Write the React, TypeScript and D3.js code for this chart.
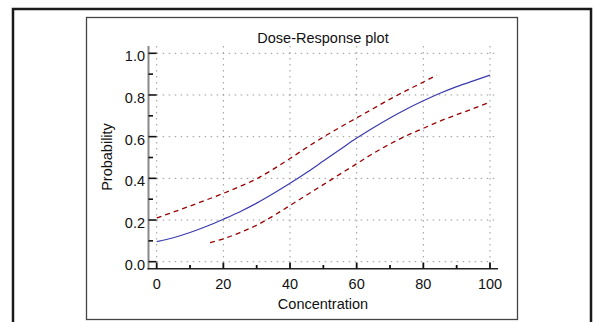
import React from "react";
import * as d3 from "d3";

const fitX = [0, 5, 10, 15, 20, 25, 30, 35, 40, 45, 50, 55, 60, 65, 70, 75, 80, 85, 90, 95, 100];
const fitY = [0.096, 0.115, 0.14, 0.17, 0.204, 0.24, 0.281, 0.327, 0.376, 0.428, 0.483, 0.538, 0.593, 0.643, 0.69, 0.733, 0.772, 0.808, 0.84, 0.868, 0.895];

const lowerX = [16, 20, 25, 30, 35, 40, 45, 50, 55, 60, 65, 70, 75, 80, 85, 90, 95, 100];
const lowerY = [0.092, 0.11, 0.14, 0.175, 0.22, 0.27, 0.32, 0.37, 0.42, 0.47, 0.52, 0.565, 0.605, 0.64, 0.675, 0.705, 0.735, 0.765];

const upperX = [0, 5, 10, 15, 20, 25, 30, 35, 40, 45, 50, 55, 60, 65, 70, 75, 80, 84];
const upperY = [0.21, 0.238, 0.267, 0.297, 0.328, 0.361, 0.398, 0.444, 0.495, 0.548, 0.598, 0.645, 0.69, 0.735, 0.78, 0.822, 0.862, 0.895];

const xTicks = [0, 20, 40, 60, 80, 100];
const xMinor = [10, 30, 50, 70, 90];
const yTicks = [0, 0.2, 0.4, 0.6, 0.8, 1.0];
const yMinor = [0.1, 0.3, 0.5, 0.7, 0.9];

const title = "Dose-Response plot";
const xLabel = "Concentration";
const yLabel = "Probability";

export default function App() {
  const x = d3.scaleLinear().domain([0, 100]).range([156.7, 490]);
  const y = d3.scaleLinear().domain([0, 1]).range([261.7, 53.3]);
  const line = d3
    .line<[number, number]>()
    .x((d) => x(d[0]))
    .y((d) => y(d[1]))
    .curve(d3.curveMonotoneX);
  const fit = fitX.map((v, i) => [v, fitY[i]] as [number, number]);
  const lower = lowerX.map((v, i) => [v, lowerY[i]] as [number, number]);
  const upper = upperX.map((v, i) => [v, upperY[i]] as [number, number]);

  const font = "'Liberation Sans', Arial, Helvetica, sans-serif";
  const axisX = 148.5;
  const axisY = 268.8;
  const gridRight = 497;
  const axisTop = 46;

  return (
    <svg
      width={595}
      height={322}
      style={{ position: "absolute", left: 0, top: 0, background: "#fff" }}
      fontFamily={font}
    >
      <rect x={0} y={0} width={595} height={322} fill="#fff" />
      <rect x={13} y={9} width={578} height={330} fill="none" stroke="#1a1a1a" strokeWidth={2.5} />
      <rect x={86.5} y={17.5} width={431} height={302} fill="none" stroke="#444" strokeWidth={1.3} />

      {/* grid */}
      <g stroke="#999" strokeWidth={1} strokeDasharray="1.5,4.5">
        {yTicks.map((t) => (
          <line key={"gy" + t} x1={x(0)} x2={gridRight} y1={y(t)} y2={y(t)} />
        ))}
        {xTicks.map((t) => (
          <line key={"gx" + t} x1={x(t)} x2={x(t)} y1={axisTop} y2={y(0)} />
        ))}
      </g>

      {/* y axis */}
      <line x1={axisX} x2={axisX} y1={axisTop} y2={axisY + 0.5} stroke="#888" strokeWidth={2} />
      {yTicks.map((t) => (
        <line key={"yt" + t} x1={axisX} x2={156.5} y1={y(t)} y2={y(t)} stroke="#111" strokeWidth={1.6} />
      ))}
      {yMinor.map((t) => (
        <line key={"ym" + t} x1={axisX} x2={153} y1={y(t)} y2={y(t)} stroke="#111" strokeWidth={1.6} />
      ))}
      {yTicks.map((t) => (
        <text key={"yl" + t} x={145} y={y(t) + 8} textAnchor="end" fontSize={14.5} fill="#111">
          {d3.format(".1f")(t)}
        </text>
      ))}

      {/* x axis */}
      <line x1={axisX - 1} x2={gridRight + 1} y1={axisY} y2={axisY} stroke="#222" strokeWidth={1.6} />
      {xTicks.map((t) => (
        <line key={"xt" + t} x1={x(t)} x2={x(t)} y1={axisY} y2={262.5} stroke="#111" strokeWidth={1.8} />
      ))}
      {xMinor.map((t) => (
        <line key={"xm" + t} x1={x(t)} x2={x(t)} y1={axisY} y2={265} stroke="#111" strokeWidth={1.8} />
      ))}
      {xTicks.map((t) => (
        <text key={"xl" + t} x={x(t)} y={289} textAnchor="middle" fontSize={14.5} fill="#111">
          {t}
        </text>
      ))}

      {/* curves */}
      <path d={line(upper) || ""} fill="none" stroke="#990000" strokeWidth={1.3} strokeDasharray="5,4" />
      <path d={line(lower) || ""} fill="none" stroke="#990000" strokeWidth={1.3} strokeDasharray="5,4" />
      <path d={line(fit) || ""} fill="none" stroke="#3a3aae" strokeWidth={1.2} />

      {/* labels */}
      <text x={323} y={42.5} textAnchor="middle" fontSize={14.5} fill="#111">
        {title}
      </text>
      <text x={323} y={309} textAnchor="middle" fontSize={14.5} fill="#111">
        {xLabel}
      </text>
      <text
        transform={`translate(112,157) rotate(-90)`}
        textAnchor="middle"
        fontSize={14.5}
        fill="#111"
      >
        {yLabel}
      </text>
    </svg>
  );
}
